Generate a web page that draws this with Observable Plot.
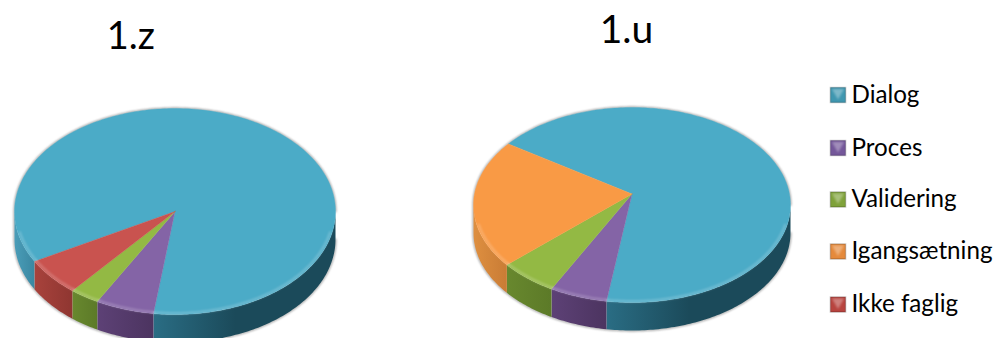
<!DOCTYPE html>
<html>
<head>
<meta charset="utf-8">
<script src="https://cdn.jsdelivr.net/npm/d3@7"></script>
<script src="https://cdn.jsdelivr.net/npm/@observablehq/plot@0.6"></script>
<style>
  html, body { margin: 0; padding: 0; background: #fff; }
  svg { display: block; }
</style>
</head>
<body>
<div id="chart"></div>
<script>
// Shares per category, in percent of each pie.
const categories = ["Dialog", "Proces", "Validering", "Igangsætning", "Ikke faglig"];
const values1z = [85.2, 5.9, 3, 0, 5.9];
const values1u = [66.8, 5.9, 6, 21.3, 0];
const topColors = ["#4babc7", "#8464a6", "#93b944", "#f99a45", "#c9534f"];
const swatchColors = ["#3f97b0", "#74579a", "#7fa23a", "#e58a3c", "#b8443f"];

// Side wall shading per category: left and right end of each horizontal gradient.
const wallColors = {
  "Dialog-left": ["#4a9db8", "#3a87a1"],
  "Dialog-right": ["#2a6d84", "#1b4a5a"],
  "Proces": ["#5d4176", "#4c3460"],
  "Validering": ["#68882e", "#5c7a28"],
  "Igangsætning": ["#de8f40", "#c97c35"],
  "Ikke faglig": ["#a8423c", "#8f3631"]
};

// Placement of the two pies: ellipse centre, radii, wall height, hub offset, first-slice angle.
const pies = [
  {name: "1.z", values: values1z, cx: 174.5, cy: 211, rx: 160.5, ry: 103, depth: 28, hubDy: 0, start: 241},
  {name: "1.u", values: values1u, cx: 631.5, cy: 204.5, rx: 158.5, ry: 97.5, depth: 28, hubDy: -11, start: 308.8}
];
const titles = [
  {label: "1.z", x: 130.4, y: 36, size: 38},
  {label: "1.u", x: 626, y: 30, size: 39}
];
const legendX = 837.5;
const legendY = [94.5, 147.5, 199, 251, 304];

const rad = (d) => (d * Math.PI) / 180;
const onRim = (p, a, k = 1, dy = 0) => ({
  x: p.cx + k * p.rx * Math.sin(rad(a)),
  y: p.cy + dy - k * p.ry * Math.cos(rad(a))
});
const arc = (p, a0, a1, k, dy) => {
  const n = Math.max(2, Math.ceil(Math.abs(a1 - a0)));
  return d3.range(n + 1).map((i) => onRim(p, a0 + ((a1 - a0) * i) / n, k, dy));
};

// Turn the shares into slice outlines, wall quads and rim strokes.
const faces = [], walls = [], rims = [], halos = [];
pies.forEach((p) => {
  let a = p.start;
  halos.push(
    ...arc(p, 90, 270, 1, p.depth).concat(arc(p, 270, 450, 1, 0)).map((d) => ({...d, id: p.name}))
  );
  categories.forEach((cat, ci) => {
    const v = p.values[ci];
    if (!v) return;
    const a0 = a, a1 = a + (v / 100) * 360;
    a = a1;
    const sid = `${p.name}-${cat}`;
    const hub = {x: p.cx, y: p.cy + p.hubDy};
    [hub, ...arc(p, a0, a1), hub].forEach((d) => faces.push({...d, id: sid, cat}));
    for (const [lo, hi] of [[90, 270], [450, 630]]) {
      const b0 = Math.max(a0, lo), b1 = Math.min(a1, hi);
      if (b1 <= b0) continue;
      const mid = ((b0 + b1) / 2) % 360;
      const key = cat === "Dialog" ? (mid > 180 ? "Dialog-left" : "Dialog-right") : cat;
      const fill = `url(#wall-${Object.keys(wallColors).indexOf(key)})`;
      const id = `${sid}-${lo}`;
      [...arc(p, b0, b1, 1, 0), ...arc(p, b1, b0, 1, p.depth)].forEach((d) =>
        walls.push({...d, id, fill})
      );
      // the bevel fades out before it reaches the widest points of the ellipse
      const r0 = Math.max(b0, lo + 12), r1 = Math.min(b1, hi - 12);
      if (r1 > r0) arc(p, r0, r1, 0.988, 0).forEach((d) => rims.push({...d, id}));
    }
  });
});

// Horizontal gradients used by the wall quads.
const wallDefs = () => {
  const defs = d3.create("svg:defs");
  Object.values(wallColors).forEach((stops, i) => {
    const g = defs.append("linearGradient").attr("id", `wall-${i}`);
    g.append("stop").attr("offset", "0").attr("stop-color", stops[0]);
    g.append("stop").attr("offset", i === 1 ? "0.45" : "1").attr("stop-color", stops[1]);
  });
  return defs.node();
};

const legend = categories.map((name, i) => ({name, y: legendY[i], swatch: swatchColors[i]}));

const chart = Plot.plot({
  width: 997,
  height: 338,
  margin: 0,
  x: {domain: [0, 997], range: [0, 997], axis: null},
  y: {domain: [0, 338], range: [0, 338], axis: null},
  color: {domain: categories, range: topColors},
  marks: [
    wallDefs,
    // soft shadow around each pie
    Plot.line(halos, {x: "x", y: "y", z: "id", stroke: "#555", strokeWidth: 1.8, strokeOpacity: 0.6, imageFilter: "blur(0.8px)"}),
    // side walls
    Plot.line(walls, {x: "x", y: "y", z: "id", fill: {value: "fill", scale: null}, stroke: "none"}),
    // top faces
    Plot.line(faces, {x: "x", y: "y", z: "id", fill: "cat", stroke: "cat", strokeWidth: 0.4}),
    // pale bevel along the front edge
    Plot.line(rims, {x: "x", y: "y", z: "id", stroke: "#fff", strokeWidth: 2.6, strokeOpacity: 0.2, imageFilter: "blur(0.8px)"}),
    // titles
    Plot.text(titles, {x: "x", y: "y", text: "label", fontSize: "size", fontFamily: "Lato", fill: "#000", textAnchor: "middle"}),
    // legend swatches with a small sheen, then their labels
    Plot.dot(legend, {x: legendX, y: "y", fill: {value: "swatch", scale: null}, stroke: "#00000030", symbol: "square", r: 8.6}),
    Plot.dot(legend, {x: legendX, y: (d) => d.y - 2.5, fill: "#fff", fillOpacity: 0.32, symbol: "triangle", rotate: 180, r: 4.5, imageFilter: "blur(1px)"}),
    Plot.text(legend, {x: 851, y: "y", text: "name", fontSize: 24.2, fontFamily: "Lato", fill: "#000", textAnchor: "start"})
  ]
});
document.getElementById("chart").append(chart);
</script>
</body>
</html>
